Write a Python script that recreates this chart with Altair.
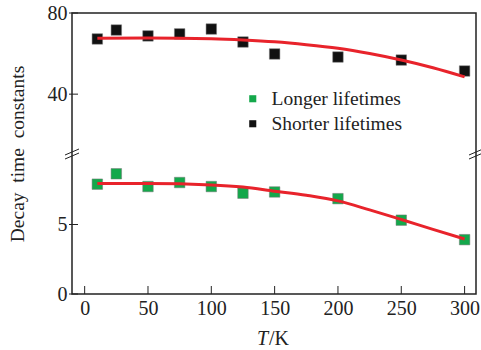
import altair as alt
import pandas as pd

T = [10, 25, 50, 75, 100, 125, 150, 200, 250, 300]
longer = [7.9, 8.65, 7.73, 8.02, 7.73, 7.25, 7.34, 6.86, 5.31, 3.91]
shorter = [67.2, 71.6, 68.7, 69.7, 72.1, 65.7, 59.8, 58.3, 56.8, 51.4]
fit_T = [10, 50, 100, 125, 150, 175, 200, 225, 250, 275, 300]
fit_longer = [7.95, 7.95, 7.85, 7.7, 7.4, 7.1, 6.7, 6.05, 5.36, 4.65, 3.96]
fit_shorter = [67.5, 67.7, 67.3, 66.7, 65.8, 64.4, 62.6, 60.0, 56.8, 53.0, 48.5]
series = ["Longer lifetimes", "Shorter lifetimes"]
colors = ["#14a84b", "#111111"]
x_ticks = [0, 50, 100, 150, 200, 250, 300]
y_ticks = [0, 5, 40, 80]
x_domain = [-10, 309]
y_domain = [0, 10, 80]   # piecewise: axis break at 10

W, H = 404, 281
BREAK_PX = 142
FONT = "Liberation Serif"

pts = pd.DataFrame({
    "T": T * 2,
    "v": longer + shorter,
    "s": [series[0]] * len(T) + [series[1]] * len(T),
})
fits = pd.DataFrame({
    "T": fit_T * 2,
    "v": fit_longer + fit_shorter,
    "s": [series[0]] * len(fit_T) + [series[1]] * len(fit_T),
})

xs = alt.Scale(domain=x_domain, nice=False, zero=False)
ys = alt.Scale(domain=y_domain, range=[H, BREAK_PX, 0], nice=False, zero=False)

xaxis = alt.Axis(values=x_ticks, ticks=False, domain=False, grid=False,
                 labelFont=FONT, labelFontSize=20, labelColor="#222",
                 labelPadding=4, title=None)
yaxis = alt.Axis(values=y_ticks, ticks=False, domain=False, grid=False,
                 labelFont=FONT, labelFontSize=20, labelColor="#222",
                 labelPadding=5,
                 title="Decay\u00a0\u00a0time\u00a0\u00a0constants",
                 titleFont=FONT, titleFontSize=19.5, titleFontWeight="normal",
                 titleColor="#222", titlePadding=20)

points = alt.Chart(pts).mark_square(size=110, opacity=1, filled=True,
                                    stroke="#777", strokeWidth=0.5).encode(
    x=alt.X("T:Q", scale=xs, axis=xaxis),
    y=alt.Y("v:Q", scale=ys, axis=yaxis),
    color=alt.Color("s:N", scale=alt.Scale(domain=series, range=colors),
                    legend=alt.Legend(orient="none", legendX=171, legendY=76,
                                      title=None, symbolType="square",
                                      symbolSize=50, symbolStrokeWidth=0,
                                      labelFont=FONT, labelFontSize=19.5,
                                      labelColor="#222", labelOffset=9,
                                      rowPadding=4)),
)

lines = alt.Chart(fits).mark_line(color="#e8232b", strokeWidth=3,
                                  interpolate="monotone").encode(
    x=alt.X("T:Q", scale=xs),
    y=alt.Y("v:Q", scale=ys),
    detail="s:N",
)

xt = alt.Chart(pd.DataFrame({"t": x_ticks})).mark_rule(
    color="#222", strokeWidth=1).encode(
    x=alt.X("t:Q", scale=xs), y=alt.value(H), y2=alt.value(H - 8))

yt = alt.Chart(pd.DataFrame({"t": y_ticks})).mark_rule(
    color="#222", strokeWidth=1).encode(
    y=alt.Y("t:Q", scale=ys), x=alt.value(-3), x2=alt.value(6))

brk = pd.DataFrame({"x": x_domain, "y": [y_domain[1]] * 2})
b1 = alt.Chart(brk).mark_rule(color="#222", strokeWidth=1, xOffset=-7,
                              x2Offset=7, yOffset=0, y2Offset=-6).encode(
    x=alt.X("x:Q", scale=xs), x2="x:Q", y=alt.Y("y:Q", scale=ys), y2="y:Q")
b2 = alt.Chart(brk).mark_rule(color="#222", strokeWidth=1, xOffset=-7,
                              x2Offset=7, yOffset=4, y2Offset=-2).encode(
    x=alt.X("x:Q", scale=xs), x2="x:Q", y=alt.Y("y:Q", scale=ys), y2="y:Q")

tl = alt.Chart(pd.DataFrame({"a": ["T"]})).mark_text(
    font=FONT, fontSize=20, fontStyle="italic", align="right",
    baseline="alphabetic", color="#222").encode(
    text="a:N", x=alt.value(196), y=alt.value(332))
kl = alt.Chart(pd.DataFrame({"a": ["/K"]})).mark_text(
    font=FONT, fontSize=20, align="left", baseline="alphabetic",
    color="#222").encode(
    text="a:N", x=alt.value(197), y=alt.value(332))

chart = alt.layer(points, lines, xt, yt, b1, b2, tl, kl).properties(
    width=W, height=H,
    autosize=alt.AutoSizeParams(type="none"),
    padding={"left": 72, "top": 13, "right": 5, "bottom": 56},
).configure(background="white", font=FONT
).configure_view(stroke="#222", strokeWidth=1.5
).configure_legend(labelFont=FONT
).configure_axis(labelFont=FONT, titleFont=FONT)

chart.save("out.html", embed_options={"renderer": "svg", "actions": False})
